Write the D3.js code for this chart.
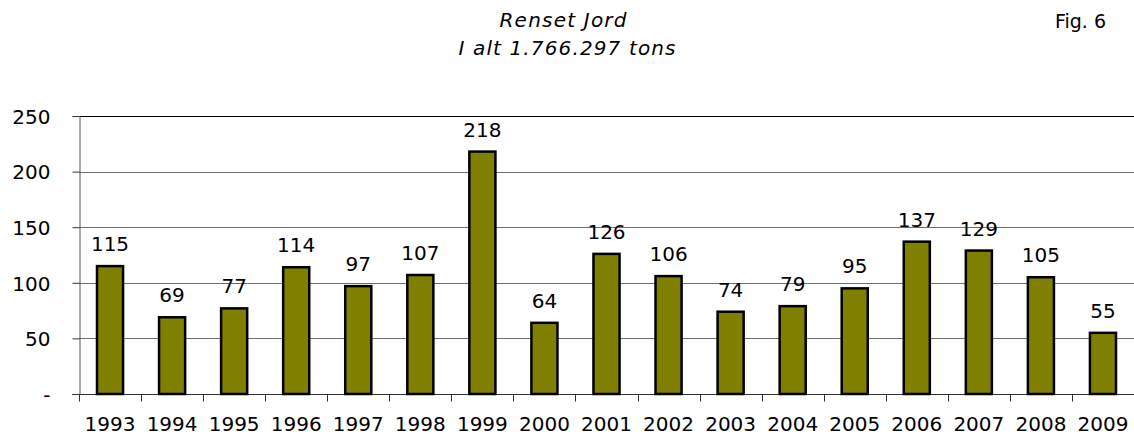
<!DOCTYPE html>
<html>
<head>
<meta charset="utf-8">
<script src="https://cdn.jsdelivr.net/npm/d3@7"></script>
<style>
  body { margin: 0; background: #fff; }
  text { font-family: "DejaVu Sans", Verdana, sans-serif; fill: #000; }
</style>
</head>
<body>
<div id="chart"></div>
<script>
// data (1000 tons)
var years = ["1993", "1994", "1995", "1996", "1997", "1998", "1999", "2000", "2001",
  "2002", "2003", "2004", "2005", "2006", "2007", "2008", "2009"];
var tons = [115, 69, 77, 114, 97, 107, 218, 64, 126, 106, 74, 79, 95, 137, 129, 105, 55];
var yTicks = [0, 50, 100, 150, 200, 250];

var svgWidth = 1134;
var svgHeight = 436;
var margin = { top: 116, right: 0, bottom: 42, left: 79 };
var width = svgWidth - margin.left - margin.right;
var height = svgHeight - margin.top - margin.bottom;

var svg = d3.select("#chart")
  .append("svg")
  .attr("width", svgWidth)
  .attr("height", svgHeight);

// titles
svg.append("text")
  .attr("x", 563).attr("y", 27)
  .attr("text-anchor", "middle")
  .style("font-style", "italic")
  .style("font-size", "20px")
  .attr("textLength", 127)
  .text("Renset Jord");
svg.append("text")
  .attr("x", 567).attr("y", 55)
  .attr("text-anchor", "middle")
  .style("font-style", "italic")
  .style("font-size", "20px")
  .attr("textLength", 217)
  .text("I alt 1.766.297 tons");
svg.append("text")
  .attr("x", 1106).attr("y", 28)
  .attr("text-anchor", "end")
  .style("font-size", "19px")
  .text("Fig. 6");

var chartGroup = svg.append("g")
  .attr("transform", `translate(${margin.left}, ${margin.top})`);

var x = d3.scaleBand()
  .domain(years)
  .range([0, width])
  .paddingInner(0.58)
  .paddingOuter(0.29);

var y = d3.scaleLinear()
  .domain([0, 250])
  .range([height, 0]);

// gridlines
chartGroup.selectAll(".grid")
  .data(yTicks.filter(d => d > 0))
  .enter()
  .append("line")
  .attr("x1", 0)
  .attr("x2", width)
  .attr("y1", d => Math.round(y(d)) + 0.5)
  .attr("y2", d => Math.round(y(d)) + 0.5)
  .attr("stroke", d => d === 250 ? "#000" : "#6e6e6e")
  .attr("stroke-width", 1);

// y axis
var yAxis = d3.axisLeft(y)
  .tickValues(yTicks)
  .tickSize(7)
  .tickPadding(22)
  .tickFormat(d => d === 0 ? "-" : d);

var yG = chartGroup.append("g")
  .attr("transform", "translate(0.5, 0)")
  .call(yAxis);
yG.select(".domain").attr("stroke", "#555");
yG.selectAll(".tick line").attr("stroke", "#333");
yG.selectAll("text")
  .style("font-size", "20px")
  .attr("dy", "0.36em");

// x axis with ticks between categories
var xG = chartGroup.append("g")
  .attr("transform", `translate(0, ${height + 0.5})`);
xG.append("line")
  .attr("x1", -7).attr("x2", width)
  .attr("stroke", "#333");
xG.selectAll(".xtick")
  .data(d3.range(years.length + 1))
  .enter()
  .append("line")
  .attr("x1", i => Math.round(i * x.step()) + 0.5)
  .attr("x2", i => Math.round(i * x.step()) + 0.5)
  .attr("y1", 0)
  .attr("y2", 7)
  .attr("stroke", "#333");
xG.selectAll(".xlabel")
  .data(years)
  .enter()
  .append("text")
  .attr("x", d => x(d) + x.bandwidth() / 2)
  .attr("y", 36)
  .attr("text-anchor", "middle")
  .style("font-size", "20px")
  .text(d => d);

// bars
chartGroup.selectAll(".bar")
  .data(tons)
  .enter()
  .append("rect")
  .attr("x", (d, i) => x(years[i]))
  .attr("y", d => y(d))
  .attr("width", x.bandwidth())
  .attr("height", d => height - y(d))
  .attr("fill", "#808000")
  .attr("stroke", "#000")
  .attr("stroke-width", 2.5);

// value labels
chartGroup.selectAll(".val")
  .data(tons)
  .enter()
  .append("text")
  .attr("x", (d, i) => x(years[i]) + x.bandwidth() / 2)
  .attr("y", d => y(d) - 15)
  .attr("text-anchor", "middle")
  .style("font-size", "20px")
  .text(d => d);
</script>
</body>
</html>
